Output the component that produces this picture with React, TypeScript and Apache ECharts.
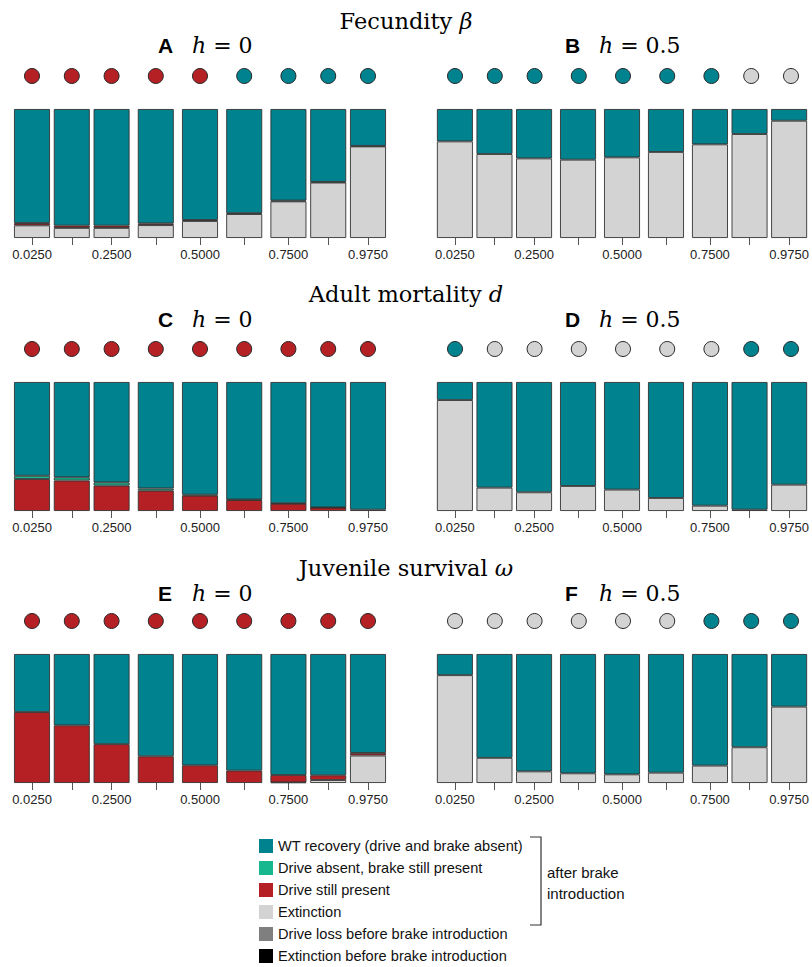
import { useEffect, useRef } from "react";
import * as echarts from "echarts";

// ---------- data ----------
const paramValues = [0.025, 0.1375, 0.25, 0.375, 0.5, 0.625, 0.75, 0.8625, 0.975];
const tickLabelValues = [0.025, 0.25, 0.5, 0.75, 0.975];

const outcomeWT = "WT recovery (drive and brake absent)";
const outcomeBrake = "Drive absent, brake still present";
const outcomeDrive = "Drive still present";
const outcomeExt = "Extinction";
const outcomeLoss = "Drive loss before brake introduction";
const outcomeExtBefore = "Extinction before brake introduction";
const legendOrder = [outcomeWT, outcomeBrake, outcomeDrive, outcomeExt, outcomeLoss, outcomeExtBefore];

const rowTitles = ["Fecundity", "Adult mortality", "Juvenile survival"];
const rowSymbols = ["β", "d", "ω"];
const panelLetters = ["A", "B", "C", "D", "E", "F"];
const panelH = ["0", "0.5", "0", "0.5", "0", "0.5"];

// Panel A (fecundity, h = 0)
const wtA = [0.884, 0.904, 0.904, 0.887, 0.86, 0.808, 0.71, 0.565, 0.286];
const brakeA = [0, 0, 0, 0, 0, 0, 0, 0, 0];
const driveA = [0.018, 0.018, 0.018, 0.013, 0.008, 0.006, 0.006, 0.005, 0.004];
const extA = [0.098, 0.078, 0.078, 0.1, 0.132, 0.186, 0.284, 0.43, 0.71];
const lossA = [0, 0, 0, 0, 0, 0, 0, 0, 0];
const extBeforeA = [0, 0, 0, 0, 0, 0, 0, 0, 0];
const dotsA = ["drive", "drive", "drive", "drive", "drive", "wt", "wt", "wt", "wt"];

// Panel B (fecundity, h = 0.5)
const wtB = [0.251, 0.349, 0.383, 0.393, 0.375, 0.333, 0.274, 0.194, 0.091];
const brakeB = [0, 0, 0, 0, 0, 0, 0, 0, 0];
const driveB = [0, 0, 0, 0, 0, 0, 0, 0, 0];
const extB = [0.749, 0.651, 0.617, 0.607, 0.625, 0.667, 0.726, 0.806, 0.909];
const lossB = [0, 0, 0, 0, 0, 0, 0, 0, 0];
const extBeforeB = [0, 0, 0, 0, 0, 0, 0, 0, 0];
const dotsB = ["wt", "wt", "wt", "wt", "wt", "wt", "wt", "ext", "ext"];

// Panel C (adult mortality, h = 0)
const wtC = [0.727, 0.739, 0.778, 0.825, 0.873, 0.911, 0.94, 0.972, 0.99];
const brakeC = [0.025, 0.025, 0.025, 0.017, 0.008, 0.004, 0.003, 0.002, 0];
const driveC = [0.248, 0.236, 0.197, 0.158, 0.119, 0.085, 0.057, 0.026, 0.01];
const extC = [0, 0, 0, 0, 0, 0, 0, 0, 0];
const lossC = [0, 0, 0, 0, 0, 0, 0, 0, 0];
const extBeforeC = [0, 0, 0, 0, 0, 0, 0, 0, 0];
const dotsC = ["drive", "drive", "drive", "drive", "drive", "drive", "drive", "drive", "drive"];

// Panel D (adult mortality, h = 0.5)
const wtD = [0.14, 0.819, 0.855, 0.806, 0.834, 0.899, 0.959, 0.99, 0.796];
const brakeD = [0, 0, 0, 0, 0, 0, 0, 0, 0];
const driveD = [0, 0, 0, 0, 0, 0, 0, 0, 0];
const extD = [0.86, 0.181, 0.145, 0.194, 0.166, 0.101, 0.041, 0.01, 0.204];
const lossD = [0, 0, 0, 0, 0, 0, 0, 0, 0];
const extBeforeD = [0, 0, 0, 0, 0, 0, 0, 0, 0];
const dotsD = ["wt", "ext", "ext", "ext", "ext", "ext", "ext", "wt", "wt"];

// Panel E (juvenile survival, h = 0)
const wtE = [0.45, 0.553, 0.699, 0.793, 0.863, 0.904, 0.938, 0.94, 0.767];
const brakeE = [0, 0, 0, 0, 0, 0, 0, 0, 0];
const driveE = [0.55, 0.447, 0.301, 0.207, 0.137, 0.096, 0.057, 0.037, 0.02];
const extE = [0, 0, 0, 0, 0, 0, 0.005, 0.023, 0.213];
const lossE = [0, 0, 0, 0, 0, 0, 0, 0, 0];
const extBeforeE = [0, 0, 0, 0, 0, 0, 0, 0, 0];
const dotsE = ["drive", "drive", "drive", "drive", "drive", "drive", "drive", "drive", "drive"];

// Panel F (juvenile survival, h = 0.5)
const wtF = [0.164, 0.805, 0.91, 0.925, 0.933, 0.92, 0.865, 0.723, 0.408];
const brakeF = [0, 0, 0, 0, 0, 0, 0, 0, 0];
const driveF = [0, 0, 0, 0, 0, 0, 0, 0, 0];
const extF = [0.836, 0.195, 0.09, 0.075, 0.067, 0.08, 0.135, 0.277, 0.592];
const lossF = [0, 0, 0, 0, 0, 0, 0, 0, 0];
const extBeforeF = [0, 0, 0, 0, 0, 0, 0, 0, 0];
const dotsF = ["ext", "ext", "ext", "ext", "ext", "ext", "wt", "wt", "wt"];

// ---------- styling ----------
const colors: Record<string, string> = {
  [outcomeWT]: "#00838f",
  [outcomeBrake]: "#17b890",
  [outcomeDrive]: "#b42024",
  [outcomeExt]: "#d3d3d3",
  [outcomeLoss]: "#7f7f7f",
  [outcomeExtBefore]: "#000000",
};
const dotColors: Record<string, string> = {
  wt: "#00838f",
  drive: "#b42024",
  ext: "#d3d3d3",
};

const SANS = "'Liberation Sans', Arial, Helvetica, sans-serif";
const SERIF = "'DejaVu Serif', 'Liberation Serif', serif";

const colLeft = [12.55, 435.55];
const plotWidth = 374.9;
const rowTop = [109, 382, 654];
const barHeight = 129;
const rowTitleY = [21, 294, 568];
const panelLabelY = [45, 319, 593];
const labelX = [158, 565];

const panels = [
  { wt: wtA, brake: brakeA, drive: driveA, ext: extA, loss: lossA, extBefore: extBeforeA, dots: dotsA },
  { wt: wtB, brake: brakeB, drive: driveB, ext: extB, loss: lossB, extBefore: extBeforeB, dots: dotsB },
  { wt: wtC, brake: brakeC, drive: driveC, ext: extC, loss: lossC, extBefore: extBeforeC, dots: dotsC },
  { wt: wtD, brake: brakeD, drive: driveD, ext: extD, loss: lossD, extBefore: extBeforeD, dots: dotsD },
  { wt: wtE, brake: brakeE, drive: driveE, ext: extE, loss: lossE, extBefore: extBeforeE, dots: dotsE },
  { wt: wtF, brake: brakeF, drive: driveF, ext: extF, loss: lossF, extBefore: extBeforeF, dots: dotsF },
];

function buildOption() {
  const grid: any[] = [];
  const xAxis: any[] = [];
  const yAxis: any[] = [];
  const series: any[] = [];
  const graphic: any[] = [];

  panels.forEach((p, k) => {
    const col = k % 2;
    const row = Math.floor(k / 2);
    const barIdx = 2 * k;
    const dotIdx = 2 * k + 1;

    grid.push({ left: colLeft[col], top: rowTop[row], width: plotWidth, height: barHeight });
    grid.push({ left: colLeft[col], top: rowTop[row] - 33 - 10, width: plotWidth, height: 20 });

    xAxis.push({
      type: "value",
      gridIndex: barIdx,
      min: -0.03,
      max: 1.03,
      axisLine: { show: false },
      splitLine: { show: false },
      axisTick: { show: true, customValues: paramValues, length: 7, lineStyle: { color: "#555", width: 1 } },
      axisLabel: {
        customValues: tickLabelValues,
        formatter: (v: number) => v.toFixed(4),
        fontSize: 13,
        fontFamily: SANS,
        color: "#222",
        margin: 10,
      },
    });
    xAxis.push({ type: "value", gridIndex: dotIdx, min: -0.03, max: 1.03, show: false });
    yAxis.push({ type: "value", gridIndex: barIdx, min: 0, max: 1, show: false });
    yAxis.push({ type: "value", gridIndex: dotIdx, min: -1, max: 1, show: false });

    const stackOrder: [string, number[]][] = [
      [outcomeExtBefore, p.extBefore],
      [outcomeLoss, p.loss],
      [outcomeExt, p.ext],
      [outcomeDrive, p.drive],
      [outcomeBrake, p.brake],
      [outcomeWT, p.wt],
    ];
    stackOrder.forEach(([name, arr]) => {
      series.push({
        type: "bar",
        name,
        xAxisIndex: barIdx,
        yAxisIndex: barIdx,
        stack: "panel" + k,
        barWidth: 36,
        silent: true,
        // column 0 = share (stacked, on y), column 1 = parameter value (on x)
        encode: { x: 1, y: 0 },
        data: paramValues.map((x, i) => [arr[i] > 0 ? arr[i] : "-", x]),
        itemStyle: { color: colors[name], borderColor: "#333333", borderWidth: 0.9 },
      });
    });

    series.push({
      type: "scatter",
      xAxisIndex: dotIdx,
      yAxisIndex: dotIdx,
      symbolSize: 15,
      silent: true,
      data: paramValues.map((x, i) => ({ value: [x, 0], itemStyle: { color: dotColors[p.dots[i]] } })),
      itemStyle: { borderColor: "#2a2a2a", borderWidth: 1, opacity: 1 },
    });

    graphic.push({
      type: "text",
      x: labelX[col],
      y: panelLabelY[row],
      style: {
        text: panelLetters[k],
        fontFamily: SANS,
        fontWeight: "bold",
        fontSize: 21,
        fill: "#000",
        verticalAlign: "middle",
      },
    });
    graphic.push({
      type: "text",
      x: labelX[col] + 34,
      y: panelLabelY[row],
      style: {
        text: "{i|h}{n| = " + panelH[k] + "}",
        verticalAlign: "middle",
        fill: "#000",
        rich: {
          i: { fontFamily: SERIF, fontStyle: "italic", fontSize: 22, fill: "#000" },
          n: { fontFamily: SERIF, fontSize: 22, fill: "#000" },
        },
      },
    });
  });

  rowTitles.forEach((t, r) => {
    graphic.push({
      type: "text",
      x: 406,
      y: rowTitleY[r],
      style: {
        text: "{n|" + t + " }{i|" + rowSymbols[r] + "}",
        align: "center",
        verticalAlign: "middle",
        fill: "#000",
        rich: {
          n: { fontFamily: SERIF, fontSize: 22.5, fill: "#000" },
          i: { fontFamily: SERIF, fontStyle: "italic", fontSize: 22.5, fill: "#000" },
        },
      },
    });
  });

  graphic.push({
    type: "polyline",
    shape: { points: [[530, 837], [541, 837], [541, 925], [530, 925]] },
    style: { stroke: "#333", lineWidth: 1.2, fill: "none" },
  });
  graphic.push({
    type: "text",
    x: 547,
    y: 872,
    style: { text: "after brake", fontFamily: SANS, fontSize: 15, fill: "#111", verticalAlign: "middle" },
  });
  graphic.push({
    type: "text",
    x: 547,
    y: 893,
    style: { text: "introduction", fontFamily: SANS, fontSize: 15, fill: "#111", verticalAlign: "middle" },
  });

  return {
    animation: false,
    backgroundColor: "#ffffff",
    grid,
    xAxis,
    yAxis,
    series,
    graphic,
    legend: {
      orient: "vertical",
      left: 259,
      top: 838,
      padding: 0,
      itemWidth: 14,
      itemHeight: 14,
      itemGap: 6,
      icon: "rect",
      selectedMode: false,
      data: legendOrder,
      itemStyle: { borderWidth: 0 },
      textStyle: { fontFamily: SANS, fontSize: 14.6, color: "#111", lineHeight: 16 },
    },
  };
}

export default function App() {
  const ref = useRef<HTMLDivElement>(null);
  useEffect(() => {
    document.body.style.margin = "0";
    const chart = echarts.init(ref.current!, null, { renderer: "svg" });
    chart.setOption(buildOption() as any);
    return () => chart.dispose();
  }, []);
  return <div ref={ref} style={{ width: 812, height: 967 }} />;
}
